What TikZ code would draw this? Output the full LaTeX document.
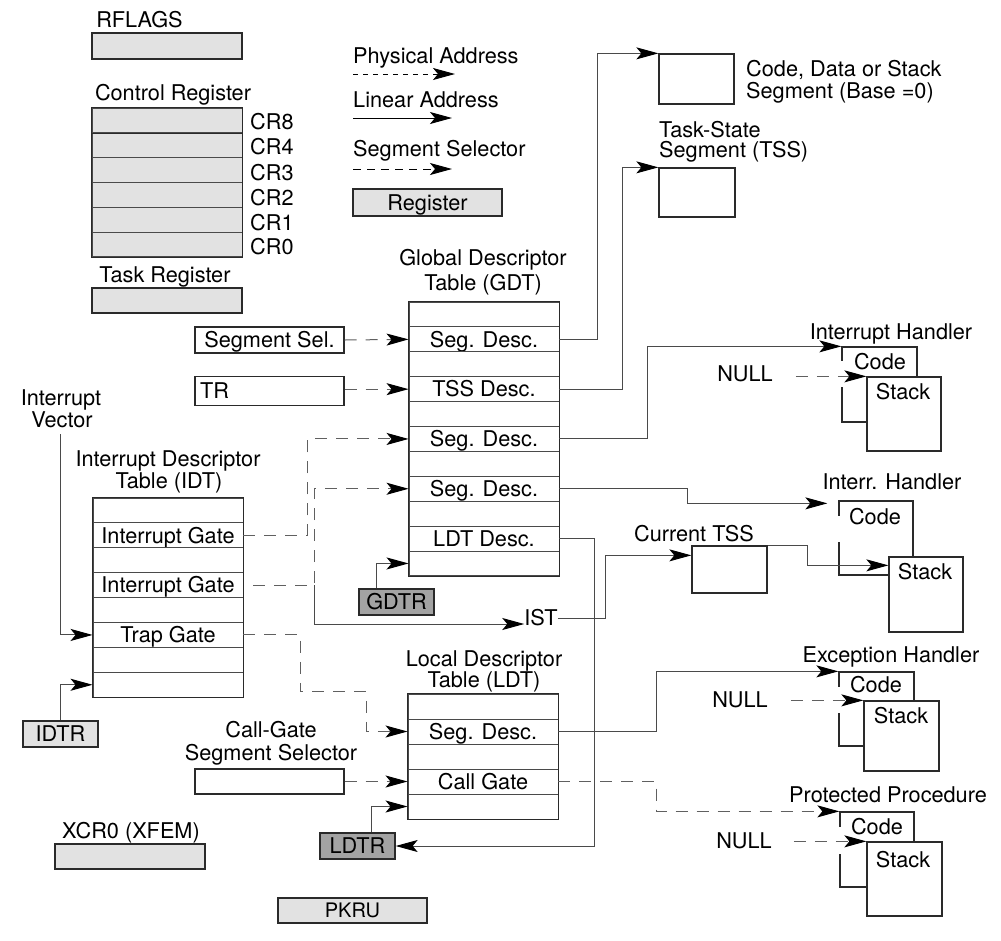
\documentclass[tikz,border=0pt]{standalone}
\usepackage{fontspec}
\setmainfont{TeX Gyre Heros}
\usetikzlibrary{arrows.meta,calc}
\definecolor{regfill}{HTML}{E2E2E2}
\definecolor{darkreg}{HTML}{A3A3A3}
\definecolor{cEdge}{HTML}{2A2A2A}
\definecolor{cConn}{HTML}{4A4A4A}
\definecolor{cDash}{HTML}{606060}
\newcommand\fsz{\fontsize{21.7pt}{24pt}\selectfont}
\newcommand\fsmall{\fontsize{20pt}{22pt}\selectfont}
\tikzset{
  lbl/.style={inner sep=0pt, text height=15.5pt, text depth=0pt, font=\fsz},
  lblL/.style={lbl, anchor=west},
  regbox/.style={lbl, draw=cEdge, line width=1.3pt, fill=regfill, minimum height=26pt},
  darkbox/.style={regbox, fill=darkreg},
  plainbox/.style={lbl, draw=cEdge, line width=1.3pt, fill=white},
  trow/.style={lbl, draw=cConn, line width=0.9pt, minimum width=150pt, minimum height=24.9pt},
  tframe/.style={draw=cEdge, line width=1.4pt},
  arrtip/.style={-{Stealth[length=22pt,width=12pt,inset=5pt,color=black]}},
  sarrow/.style={draw=cConn, line width=1pt, arrtip},
  sline/.style={draw=cConn, line width=1pt},
  darrow/.style={draw=cDash, line width=1pt, dash pattern=on 12pt off 9pt, arrtip},
  parrow/.style={draw=black, line width=1pt, dash pattern=on 5pt off 5pt, arrtip},
  gapline/.style={draw=white, line width=3pt},
}
\begin{document}
\begin{tikzpicture}[x=1pt, y=-1pt]
\fill[white] (0,0) rectangle (1001,940);
\useasboundingbox (0,0) rectangle (1001,940);

% ---------------- top-left registers
\node[lbl] (rflT) at (139.5,20) {RFLAGS};
\node[regbox, minimum width=150pt] (rfl) at (167,46) {};
\node[lbl] (crT) at (173,93) {Control Register};
\foreach \k in {1,...,6} {
  \node[trow, fill=regfill, minimum height=24.8pt] (cr\k) at (167,{108+24.8*(\k-0.5)}) {};
}
\draw[tframe] (cr1.north west) rectangle (cr6.south east);
\draw[tframe] (cr1.north west) rectangle (cr1.south east);
\node[lblL] (crl1) at (250,122) {CR8};
\node[lblL] (crl2) at (250,147) {CR4};
\node[lblL] (crl3) at (250,172.5) {CR3};
\node[lblL] (crl4) at (250,198) {CR2};
\node[lblL] (crl5) at (250,222.5) {CR1};
\node[lblL] (crl6) at (250,247) {CR0};
\node[lbl] (trT) at (165,274.5) {Task Register};
\node[regbox, minimum width=150pt, minimum height=25pt] (treg) at (167,300.5) {};

% ---------------- legend
\node[lblL] (lgP) at (353,55.5) {Physical Address};
\coordinate (lgP1) at (353,74);
\coordinate (lgP2) at (455,74);
\draw[parrow] (lgP1) -- (lgP2);
\node[lblL] (lgL) at (353,100) {Linear Address};
\coordinate (lgL1) at (353,118);
\coordinate (lgL2) at (452,118);
\draw[sarrow, draw=black] (lgL1) -- (lgL2);
\node[lblL] (lgS) at (353,149) {Segment Selector};
\coordinate (lgS1) at (353,169);
\coordinate (lgS2) at (452,169);
\draw[darrow, draw=black, dash pattern=on 8pt off 6pt] (lgS1) -- (lgS2);
\node[regbox, minimum width=149pt, minimum height=27pt] (lgR) at (427.5,202.5) {Register};

% ---------------- GDT
\node[lbl] (gdtT1) at (483,258) {Global Descriptor};
\node[lbl] (gdtT2) at (483,283) {Table (GDT)};
\foreach \k/\t in {1/,2/Seg. Desc.,3/,4/TSS Desc.,5/,6/Seg. Desc.,7/,8/Seg. Desc.,9/,10/LDT Desc.,11/} {
  \node[trow] (g\k) at (484,{302+24.9*(\k-0.5)}) {\t};
}
\draw[tframe] (g1.north west) rectangle (g11.south east);

\node[plainbox, minimum width=149pt, minimum height=26pt] (segsel) at (269.5,340) {Segment Sel.};
\node[plainbox, minimum width=149pt, minimum height=29pt] (tr) at (269.5,391) {};
\node[lblL] (trTxt) at (200,391) {TR};
\draw[darrow] (segsel.east) -- (g2.west);
\draw[darrow] (tr.east |- g4.west) -- (g4.west);

\node[darkbox, minimum width=75pt] (gdtr) at (396.5,602) {GDTR};
\draw[sarrow] ([xshift=-20.5pt]gdtr.north) |- (g11.west);

% ---------------- IDT
\node[lbl] (ivT1) at (61,398) {Interrupt};
\node[lbl] (ivT2) at (62,420) {Vector};
\coordinate (ivS) at (60,434);
\node[lbl] (idtT1) at (168,459) {Interrupt Descriptor};
\node[lbl] (idtT2) at (169,481) {Table (IDT)};
\foreach \k/\t in {1/,2/Interrupt Gate,3/,4/Interrupt Gate,5/,6/Trap Gate,7/,8/} {
  \node[trow] (i\k) at (168,{498+24.9*(\k-0.5)}) {\t};
}
\draw[tframe] (i1.north west) rectangle (i8.south east);
\draw[sarrow] (ivS) |- (i6.west);
\node[regbox, minimum width=75pt, minimum height=26pt] (idtr) at (60.5,734) {IDTR};
\draw[sarrow] (idtr.north) |- (i8.west);

\node[lbl] (ist) at (541,618) {IST};
\draw[darrow] (i2.east) -- ++(64,0) |- (g6.west);
\draw[darrow] ([xshift=10pt]i4.east) -- ++(61,0) |- (g8.west);
\draw[sarrow] ([xshift=71pt]i4.east) |- ([yshift=-6pt]ist.west);

% ---------------- LDT
\node[lbl] (ldtT1) at (484,659) {Local Descriptor};
\node[lbl] (ldtT2) at (484,680) {Table (LDT)};
\foreach \k/\t in {1/,2/Seg. Desc.,3/,4/Call Gate,5/} {
  \node[trow, minimum height=25pt] (l\k) at (483,{694+25*(\k-0.5)}) {\t};
}
\draw[tframe] (l1.north west) rectangle (l5.south east);
\draw[darrow] (i6.east) -- ++(57,0) -- ++(0,57) -| ([xshift=-41pt]l2.west) -- (l2.west);

\node[lbl] (cgT1) at (271,730) {Call-Gate};
\node[lbl] (cgT2) at (271,753) {Segment Selector};
\node[plainbox, minimum width=149pt, minimum height=25pt] (cgsel) at (269.5,781.5) {};
\draw[darrow] (cgsel.east) -- (l4.west);
\node[darkbox, minimum width=75pt] (ldtr) at (357.5,846) {LDTR};
\draw[sarrow] ([xshift=14pt]ldtr.north) |- (l5.west);
\draw[sarrow] (g10.east) -- ++(35,0) |- (ldtr.east);

\node[lbl] (xcrT) at (131,830.5) {XCR0 (XFEM)};
\node[regbox, minimum width=150pt, minimum height=25pt] (xcr) at (130,856.5) {};
\node[regbox, minimum width=149pt, minimum height=25pt, font=\fsmall, text height=14.3pt] (pkru) at (352.5,910.5) {PKRU};

% ---------------- segments on the right
\node[plainbox, minimum width=75pt, minimum height=50pt] (cds) at (696.5,79) {};
\node[lblL] (cdsT1) at (746,69) {Code, Data or Stack};
\node[lblL] (cdsT2) at (746,91) {Segment (Base =0)};
\draw[sarrow] (g2.east) -- ++(38,0) |- (cds.north west);
\node[lblL] (tssT1) at (659,129.5) {Task-State};
\node[lblL] (tssT2) at (659,150) {Segment (TSS)};
\node[plainbox, minimum width=76pt, minimum height=49pt] (tss) at (697,192.5) {};
\draw[sarrow] (g4.east) -- ++(63,0) |- (tss.north west);

% ---------------- Interrupt Handler
\node[lbl] (ih1T) at (891,332) {Interrupt Handler};
\node[plainbox, minimum width=75pt, minimum height=75pt] (ih1c) at (879.5,384.5) {};
\node[plainbox, minimum width=74pt, minimum height=74pt] (ih1s) at (904,414) {};
\draw[gapline] ([yshift=-15pt]ih1c.north west) -- ([yshift=-41pt]ih1c.north west);
\node[lbl] (ih1cT) at (880,362) {Code};
\node[lbl] (ih1sT) at (903,392) {Stack};
\node[lbl] (null1) at (745,374) {NULL};
\draw[darrow] ([xshift=23pt]null1.east |- ih1s.north west) -- (ih1s.north west);
\draw[sarrow] (g6.east) -- ++(88,0) |- (ih1c.north west);

% ---------------- Interr. Handler
\node[lbl] (ih2T) at (892,482) {Interr. Handler};
\node[plainbox, minimum width=74pt, minimum height=74pt] (ih2c) at (876,538) {};
\node[plainbox, minimum width=74pt, minimum height=75pt] (ih2s) at (926,594.5) {};
\draw[gapline] ([yshift=-16pt]ih2c.north west) -- ([yshift=-42pt]ih2c.north west);
\node[lbl] (ih2cT) at (875,517) {Code};
\node[lbl] (ih2sT) at (925,572) {Stack};
\draw[sarrow] (g8.east) -- ++(128,0) |- ([xshift=-11pt,yshift=-3pt]ih2c.north west);
\node[lbl] (ctssT) at (694,534) {Current TSS};
\node[plainbox, minimum width=75pt, minimum height=47pt] (ctss) at (729.5,569.5) {};
\draw[sarrow] (ist.east) -- ++(48,0) |- ([yshift=-10pt]ctss.north west);
\draw[sarrow] (ctss.north east) -- ++(40,0) |- ([yshift=-9pt]ih2s.north west);

% ---------------- Exception Handler
\node[lbl] (ehT) at (891,655) {Exception Handler};
\node[plainbox, minimum width=75pt, minimum height=74pt] (ehc) at (876.5,709) {};
\node[plainbox, minimum width=75pt, minimum height=70pt] (ehs) at (901.5,736) {};
\draw[gapline] ([yshift=-16pt]ehc.north west) -- ([yshift=-42pt]ehc.north west);
\node[lbl] (ehcT) at (876,685) {Code};
\node[lbl] (ehsT) at (901,716) {Stack};
\node[lbl] (null2) at (740,700) {NULL};
\draw[darrow] ([xshift=23pt]null2.east |- ehs.north west) -- (ehs.north west);
\draw[sarrow] (l2.east) -- ++(98,0) |- (ehc.north west);

% ---------------- Protected Procedure
\node[lbl] (ppT) at (888,795) {Protected Procedure};
\node[plainbox, minimum width=74pt, minimum height=75pt] (ppc) at (877,849.5) {};
\node[plainbox, minimum width=75pt, minimum height=74pt] (pps) at (904.5,879) {};
\draw[gapline] ([yshift=-16pt]ppc.north west) -- ([yshift=-43pt]ppc.north west);
\node[lbl] (ppcT) at (877,827) {Code};
\node[lbl] (ppsT) at (903,860) {Stack};
\node[lbl] (null3) at (744,841) {NULL};
\draw[darrow] ([xshift=22pt]null3.east |- pps.north west) -- (pps.north west);
\draw[darrow] (l4.east) -- ++(98,0) |- (ppc.north west);
\end{tikzpicture}
\end{document}
